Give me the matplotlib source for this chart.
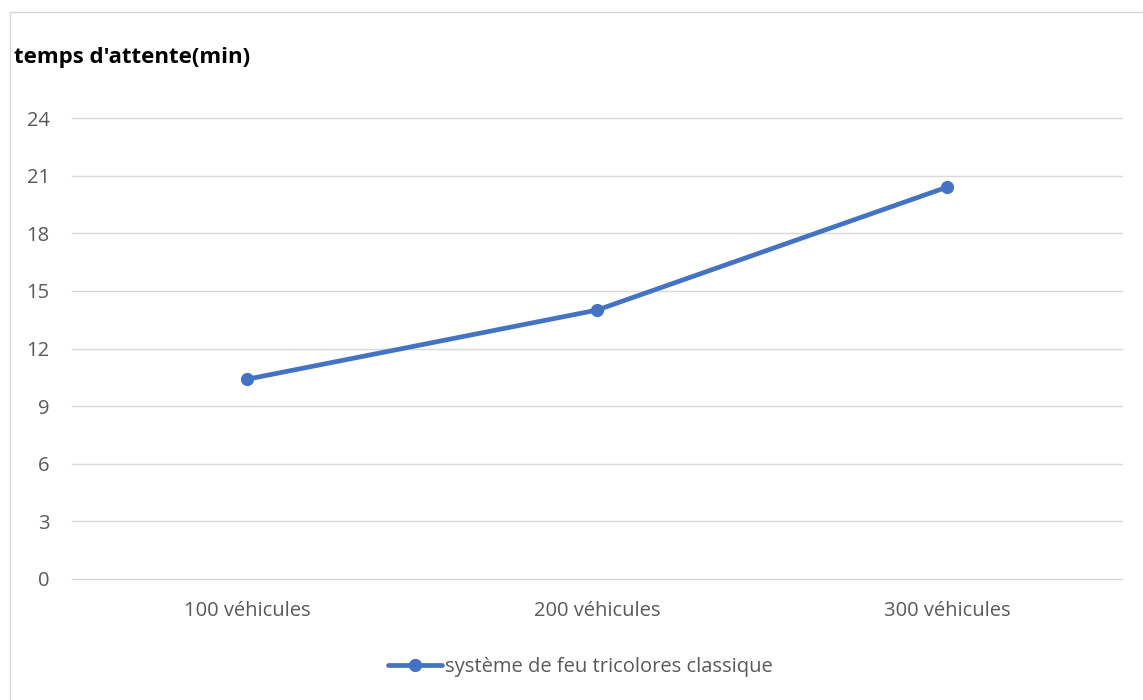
import matplotlib.pyplot as plt
from matplotlib.patches import Rectangle

categories = ["100 véhicules", "200 véhicules", "300 véhicules"]
attente = [10.4, 14.0, 20.4]
yticks = [0, 3, 6, 9, 12, 15, 18, 21, 24]

blue = "#4472C4"
grey = "#595959"

plt.rcParams['font.family'] = ['Open Sans', 'DejaVu Sans']

fig = plt.figure(figsize=(11.43, 7.0), dpi=100)
W, H = 1143, 700

# chart frame (only top and left edges show)
fig.patches.append(Rectangle((10 / W, -0.1), 1.2, 1 - 12 / H + 0.1,
                             transform=fig.transFigure, fill=False,
                             edgecolor="#d9d9d9", linewidth=1))

ax = fig.add_axes([72 / W, 1 - 579 / H, (1122 - 72) / W, (579 - 118) / H])
x = range(len(categories))
ax.plot(x, attente, color=blue, linewidth=3.4, marker="o", markersize=8.5,
        solid_capstyle="round", label="système de feu tricolores classique")

ax.set_xlim(-0.5, len(categories) - 0.5)
ax.set_ylim(0, 24)
ax.set_yticks(yticks)
ax.set_xticks(list(x))
ax.set_xticklabels(categories)
ax.grid(axis="y", color="#d9d9d9", linewidth=1)
for gl in ax.get_ygridlines():
    gl.set_clip_on(False)
ax.set_axisbelow(True)
for s in ax.spines.values():
    s.set_visible(False)
ax.tick_params(length=0, labelsize=14.5, labelcolor=grey)
ax.tick_params(axis="x", pad=16)
ax.tick_params(axis="y", pad=16)

fig.text(14 / W, 1 - 58 / H, "temps d'attente(min)", fontsize=16,
         fontweight="bold", color="black", va="center", ha="left")

leg = ax.legend(loc="center", bbox_to_anchor=(0.484, -0.19), frameon=False,
                fontsize=14.5, handlelength=2.7, handletextpad=0.15)
for t in leg.get_texts():
    t.set_color(grey)

fig.savefig("out.png", dpi=100)
